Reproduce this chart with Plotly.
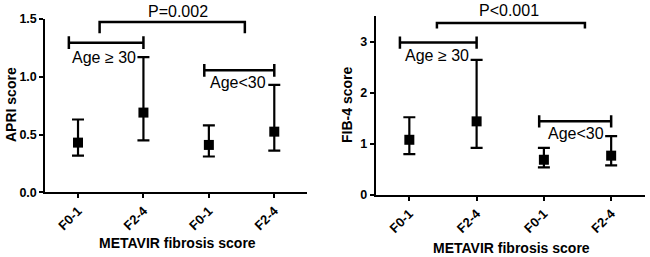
import plotly.graph_objects as go

categories = ["F0-1", "F2-4", "F0-1", "F2-4"]
cat_pos = [0, 1, 2, 3]

# APRI (left panel)
apri_median = [0.43, 0.69, 0.41, 0.525]
apri_upper = [0.63, 1.17, 0.58, 0.93]
apri_lower = [0.317, 0.45, 0.31, 0.36]

# FIB-4 (right panel)
fib4_median = [1.08, 1.44, 0.69, 0.77]
fib4_upper = [1.52, 2.64, 0.92, 1.15]
fib4_lower = [0.80, 0.92, 0.54, 0.58]

# bracket annotations: [x_start, x_end, y]
apri_age_old = [-0.14, 1.0, 1.295]
apri_age_young = [1.93, 3.0, 1.056]
apri_p = [0.33, 2.55, 1.475, 1.376]
fib4_age_old = [-0.14, 1.0, 2.98]
fib4_age_young = [1.93, 3.0, 1.44]
fib4_p = [0.41, 2.61, 3.36, 3.255]

FONT = "Liberation Sans, Arial, sans-serif"

fig = go.Figure()


def add_panel(xa, ya, ymax, med, up, lo, old, young, p, tick_h, ptext, p_xy, old_xy, young_xy):
    fig.add_trace(go.Scatter(
        x=cat_pos, y=med, mode="markers", xaxis=xa, yaxis=ya,
        marker=dict(symbol="square", size=10, color="black"),
        error_y=dict(type="data", symmetric=False,
                     array=[u - m for u, m in zip(up, med)],
                     arrayminus=[m - l for m, l in zip(med, lo)],
                     color="black", thickness=2.2, width=6),
        showlegend=False, cliponaxis=False))
    for br in (old, young):
        x0, x1, y = br
        fig.add_trace(go.Scatter(
            x=[x0, x0, None, x0, x1, None, x1, x1],
            y=[y - tick_h, y + tick_h, None, y, y, None, y - tick_h, y + tick_h],
            mode="lines", line=dict(color="black", width=2.5),
            xaxis=xa, yaxis=ya, showlegend=False, cliponaxis=False))
    x0, x1, ytop, ybot = p
    fig.add_trace(go.Scatter(
        x=[x0, x0, x1, x1], y=[ybot, ytop, ytop, ybot],
        mode="lines", line=dict(color="black", width=2.5),
        xaxis=xa, yaxis=ya, showlegend=False, cliponaxis=False))
    txt = dict(showarrow=False, xanchor="center", yanchor="middle",
               font=dict(family=FONT, size=16, color="black"))
    fig.add_annotation(x=p_xy[0], y=p_xy[1] / ymax, xref=xa, yref=ya + " domain",
                       text=ptext, **txt)
    fig.add_annotation(x=old_xy[0], y=old_xy[1], xref=xa, yref=ya, text="Age ≥ 30", **txt)
    fig.add_annotation(x=young_xy[0], y=young_xy[1], xref=xa, yref=ya, text="Age<30", **txt)


add_panel("x", "y", 1.5, apri_median, apri_upper, apri_lower,
          apri_age_old, apri_age_young, apri_p, 0.055, "P=0.002",
          (1.53, 1.564), (0.40, 1.17), (2.45, 0.95))
add_panel("x2", "y2", 3.5, fib4_median, fib4_upper, fib4_lower,
          fib4_age_old, fib4_age_young, fib4_p, 0.12, "P<0.001",
          (1.48, 3.61), (0.41, 2.72), (2.48, 1.20))

axis_common = dict(showline=True, linecolor="black", linewidth=2, showgrid=False,
                   zeroline=False, ticks="outside", ticklen=4, tickwidth=1.5,
                   tickcolor="black", automargin=False)
ytf = dict(family=FONT, size=12.5, color="black", weight="bold")
xtf = dict(family=FONT, size=13, color="black", weight="bold")

fig.update_layout(
    template="none",
    width=650, height=257,
    margin=dict(l=0, r=0, t=0, b=0, pad=0),
    paper_bgcolor="white", plot_bgcolor="white",
    xaxis=dict(domain=[0.0697, 0.4723], range=[-0.5, 3.5], tickvals=cat_pos,
               ticktext=categories, tickangle=-45, anchor="y", tickfont=xtf, **axis_common),
    yaxis=dict(domain=[0.2518, 0.926], range=[0, 1.5], tickvals=[0, 0.5, 1.0, 1.5],
               tickformat=".1f", anchor="x", tickfont=ytf, **axis_common),
    xaxis2=dict(domain=[0.578, 0.992], range=[-0.5, 3.5], tickvals=cat_pos,
                ticktext=categories, tickangle=-45, anchor="y2", tickfont=xtf, **axis_common),
    yaxis2=dict(domain=[0.241, 0.938], range=[0, 3.5], tickvals=[0, 1, 2, 3],
                anchor="x2", tickfont=ytf, **axis_common),
)

# axis titles
title = dict(xref="paper", yref="paper", showarrow=False, xanchor="center",
             yanchor="middle", font=dict(family=FONT, size=14, color="black", weight="bold"))
fig.add_annotation(x=177 / 650, y=1 - 243 / 257, text="METAVIR fibrosis score", **title)
fig.add_annotation(x=511 / 650, y=1 - 248 / 257, text="METAVIR fibrosis score", **title)
fig.add_annotation(x=11 / 650, y=1 - 105 / 257, text="APRI score", textangle=-90, **title)
fig.add_annotation(x=347 / 650, y=1 - 105 / 257, text="FIB-4 score", textangle=-90, **title)

fig.write_html("out.html", config={"displayModeBar": False},
               post_script="document.body.style.margin='0';")
